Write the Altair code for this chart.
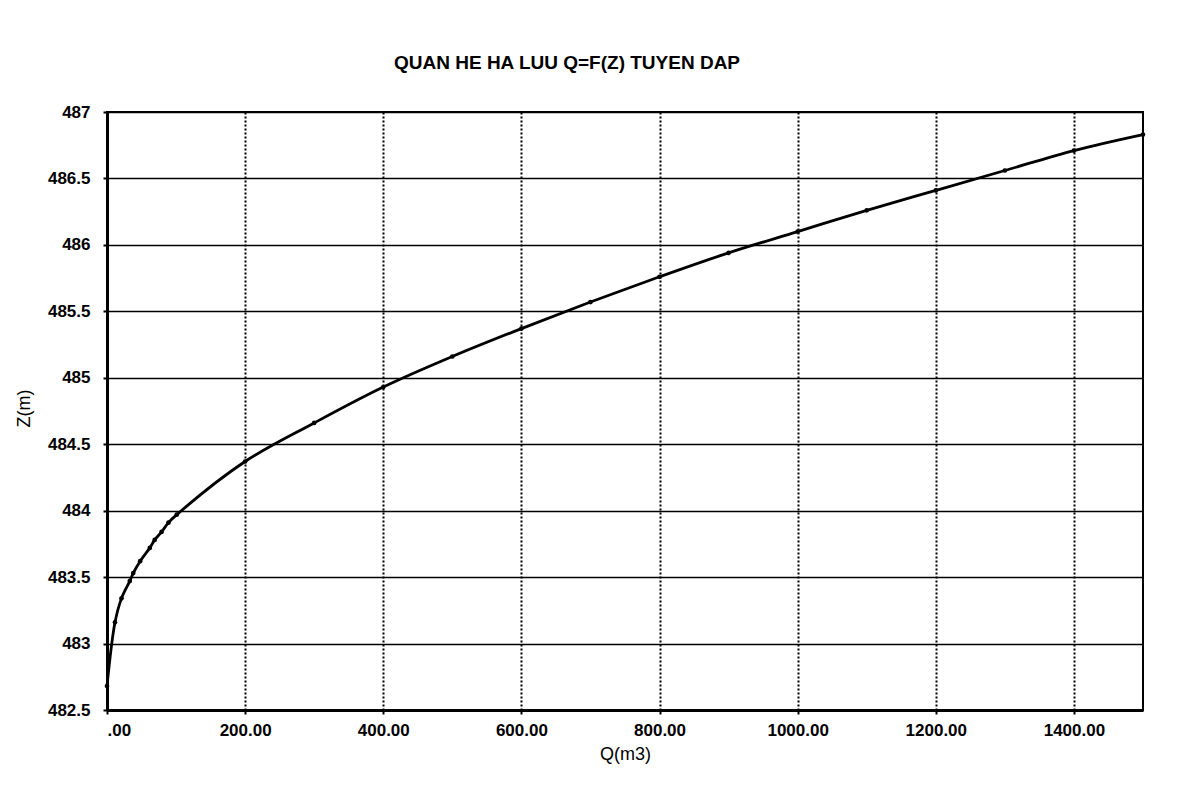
import altair as alt
import pandas as pd

# Discharge Q (m3) and water level Z (m)
Q = [0, 11.6, 21, 33, 38, 48, 62, 69, 79, 89, 101,
     200, 300, 400, 500, 600, 700, 800, 900, 1000, 1100, 1200, 1300, 1400, 1500]
Z = [482.68, 483.16, 483.34, 483.47, 483.53, 483.62, 483.72, 483.78, 483.84, 483.91, 483.97,
     484.37, 484.66, 484.93, 485.16, 485.37, 485.57, 485.76, 485.94, 486.10, 486.26,
     486.41, 486.56, 486.71, 486.83]

x_ticks = [0, 200, 400, 600, 800, 1000, 1200, 1400]
y_ticks = [482.5, 483, 483.5, 484, 484.5, 485, 485.5, 486, 486.5, 487]

title_text = "QUAN HE HA LUU Q=F(Z) TUYEN DAP"
x_title = "Q(m3)"
y_title = "Z(m)"

df = pd.DataFrame({"Q": Q, "Z": Z})

FONT = "Liberation Sans"

x_enc = alt.X(
    "Q:Q",
    title=x_title,
    scale=alt.Scale(domain=[0, 1500], nice=False, zero=False),
    axis=alt.Axis(
        values=x_ticks,
        labelExpr="datum.value == 0 ? '.00' : format(datum.value, '.2f')",
        grid=True, gridColor="black", gridDash=[2, 2], gridWidth=2, gridOpacity=1,
        domainColor="black", domainWidth=3,
        tickColor="black", tickSize=4, tickWidth=2,
        labelFont=FONT, labelFontSize=17, labelFontWeight="bold", labelColor="black",
        labelPadding=8,
        titleFont=FONT, titleFontSize=18, titleFontWeight="normal", titleColor="black",
        titleY=44, titleBaseline="middle",
    ),
)
y_enc = alt.Y(
    "Z:Q",
    title=y_title,
    scale=alt.Scale(domain=[482.5, 487], nice=False, zero=False),
    axis=alt.Axis(
        values=y_ticks, format="~g",
        grid=True, gridColor="black", gridWidth=1.6, gridOpacity=1,
        domainColor="black", domainWidth=3,
        tickColor="black", tickSize=4, tickWidth=2,
        labelFont=FONT, labelFontSize=17, labelFontWeight="bold", labelColor="black",
        labelPadding=13,
        titleFont=FONT, titleFontSize=18, titleFontWeight="normal", titleColor="black",
        titleX=-83, titleY=296, titleAngle=-90, titleAlign="center", titleBaseline="middle",
    ),
)

base = alt.Chart(df)
line = base.mark_line(color="black", strokeWidth=2.8, interpolate="catmull-rom").encode(x=x_enc, y=y_enc)
pts = base.mark_point(filled=True, color="black", size=22, opacity=1).encode(x="Q:Q", y="Z:Q")

chart = (
    alt.layer(line, pts)
    .properties(
        width=1036,
        height=598,
        title=alt.TitleParams(
            text=title_text, font=FONT, fontSize=19, fontWeight="bold", color="black",
            anchor="middle", dx=-58, offset=30,
        ),
        padding={"left": 99, "top": 104, "right": 30, "bottom": 81},
        autosize=alt.AutoSizeParams(type="none"),
        background="white",
    )
    .configure_view(stroke="black", strokeWidth=2)
)

chart.save("out.html", embed_options={"renderer": "svg", "actions": False})
